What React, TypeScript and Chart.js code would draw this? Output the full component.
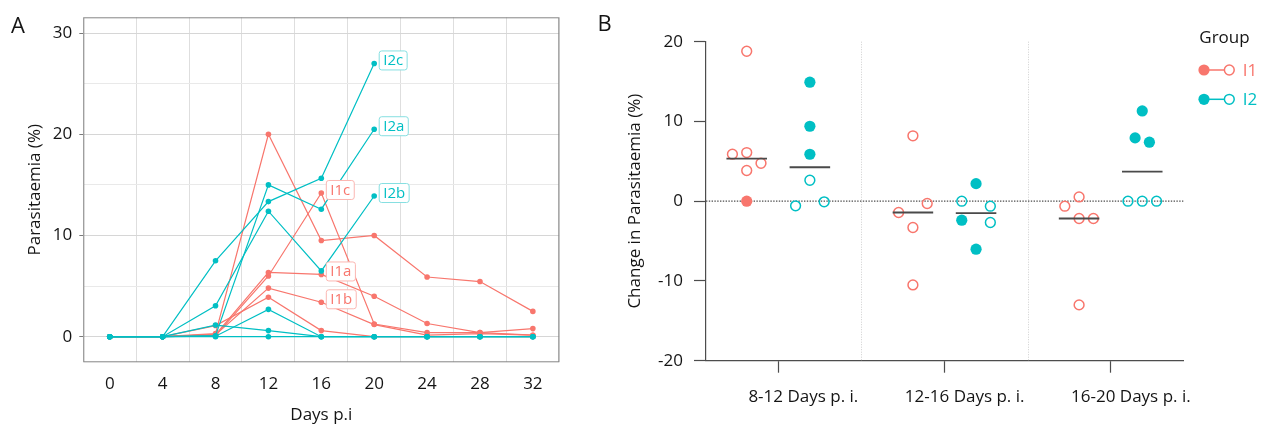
import React, { useEffect, useRef } from 'react';
import { Chart, registerables } from 'chart.js';

Chart.register(...registerables);

const FONT_FAMILY = "'Open Sans', 'DejaVu Sans', sans-serif";
const RED = '#F8766D';
const TEAL = '#00BFC4';
const RED_LIGHT = '#fbb7b2';
const TEAL_LIGHT = '#86dfe1';
const INK = '#141414';
const AXIS = '#4d4d4d';

// ---------------- Panel A data ----------------
const DAYS = [0, 4, 8, 12, 16, 20, 24, 28, 32];
const A_Y_TICKS = [0, 5, 10, 15, 20, 25, 30];

const I1A = [0, 0, 0.2, 6.35, 6.15, 4.0, 1.3, 0.4, 0.8];
const I1B = [0, 0, 0.2, 4.8, 3.4, 1.2, 0.15, 0.3, 0.15];
const I1C = [0, 0, 0.1, 6.0, 14.2, 1.25, 0.4, 0.4, 0.15];
const I1D = [0, 0, 0.3, 20.0, 9.5, 10.0, 5.9, 5.45, 2.5];
const I1E = [0, 0, 1.1, 3.9, 0.6, 0, 0, 0, 0];

const I2A = [0, 0, 0.1, 15.0, 12.6, 20.5, null, null, null];
const I2B = [0, 0, 3.06, 12.4, 6.5, 13.9, null, null, null];
const I2C = [0, 0, 7.5, 13.35, 15.65, 27.0, null, null, null];
const I2D = [0, 0, 1.15, 0.6, 0, 0, 0, 0, 0];
const I2E = [0, 0, 0.05, 2.7, 0, 0, 0, 0, 0];
const I2F = [0, 0, 0, 0, 0, 0, 0, 0, 0];

const I1_MICE = [I1A, I1B, I1C, I1D, I1E];
const I2_MICE = [I2A, I2B, I2C, I2D, I2E, I2F];

const TAG_NAMES = ['I1a', 'I1b', 'I1c', 'I2a', 'I2b', 'I2c'];
const TAG_SERIES = [I1A, I1B, I1C, I2A, I2B, I2C];
const TAG_DAYS = [16, 16, 16, 20, 20, 20];
const TAG_GROUP = ['I1', 'I1', 'I1', 'I2', 'I2', 'I2'];

// ---------------- Panel B data ----------------
const PERIODS = ['8-12 Days p. i.', '12-16 Days p. i.', '16-20 Days p. i.'];
const B_Y_TICKS = [-20, -10, 0, 10, 20];

const I1_PERIOD = [0, 0, 0, 0, 0, 0, 1, 1, 1, 1, 1, 2, 2, 2, 2, 2];
const I1_CHANGE = [18.8, 5.9, 6.1, 4.76, 3.85, 0.0, 8.2, -1.42, -0.29, -3.3, -10.5, 0.54, -0.63, -2.17, -2.17, -13.0];
const I1_FILLED = [false, false, false, false, false, true, false, false, false, false, false, false, false, false, false, false];
const I1_SWARM = [0, -1, 0, 1, 0, 0, 0, -1, 1, 0, 0, 0, -1, 0, 1, 0];

const I2_PERIOD = [0, 0, 0, 0, 0, 0, 1, 1, 1, 1, 1, 1, 2, 2, 2, 2, 2, 2];
const I2_CHANGE = [14.92, 9.4, 5.89, 2.63, -0.58, -0.08, 0, 2.2, -0.63, -2.38, -2.67, -6.02, 11.32, 7.94, 7.4, 0, 0, 0];
const I2_FILLED = [true, true, true, false, false, false, false, true, false, true, false, true, true, true, true, false, false, false];
const I2_SWARM = [0, 0, 0, 0, -1, 1, -1, 0, 1, -1, 1, 0, 0, -0.5, 0.5, -1, 0, 1];

const GROUP_SHIFT = 0.19;
const SWARM_STEP = 0.086;
const MEDIAN_HALF = 0.122;

const font = (size: number) => ({ family: FONT_FAMILY, size, lineHeight: 1.2 });

function median(vals: number[]) {
  const s = [...vals].sort((a, b) => a - b);
  const n = s.length;
  return n % 2 ? s[(n - 1) / 2] : (s[n / 2 - 1] + s[n / 2]) / 2;
}

// ---------------- Panel A config ----------------
function buildA(): any {
  const mk = (vals: (number | null)[], color: string, order: number) => ({
    data: DAYS.map((d, i) => ({ x: d, y: vals[i] })).filter((p) => p.y !== null),
    borderColor: color,
    backgroundColor: color,
    borderWidth: 1.2,
    pointRadius: 2.8,
    pointBorderWidth: 0,
    tension: 0,
    order,
  });
  const datasets = [
    ...I2_MICE.map((v) => mk(v, TEAL, 0)),
    ...I1_MICE.map((v) => mk(v, RED, 1)),
  ];

  const framePlugin = {
    id: 'frameA',
    beforeDatasetsDraw(chart: any) {
      const { ctx, chartArea: a } = chart;
      ctx.save();
      ctx.strokeStyle = '#858585';
      ctx.lineWidth = 1;
      ctx.strokeRect(a.left + 0.5, a.top + 0.5, a.right - a.left - 1, a.bottom - a.top - 1);
      ctx.restore();
    },
  };

  const tagPlugin = {
    id: 'tagsA',
    afterDatasetsDraw(chart: any) {
      const { ctx } = chart;
      const xs = chart.scales.x;
      const ys = chart.scales.y;
      ctx.save();
      ctx.font = `15px ${FONT_FAMILY}`;
      ctx.textBaseline = 'middle';
      ctx.textAlign = 'left';
      TAG_NAMES.forEach((name, i) => {
        const di = DAYS.indexOf(TAG_DAYS[i]);
        const v = TAG_SERIES[i][di] as number;
        const px = xs.getPixelForValue(TAG_DAYS[i]);
        const py = ys.getPixelForValue(v);
        const tw = ctx.measureText(name).width;
        const w = tw + 8;
        const h = 19;
        const bx = px + 5;
        const by = py - 3 - h / 2;
        const isI1 = TAG_GROUP[i] === 'I1';
        ctx.beginPath();
        ctx.roundRect(bx, by, w, h, 2.5);
        ctx.fillStyle = '#ffffff';
        ctx.fill();
        ctx.lineWidth = 1;
        ctx.strokeStyle = isI1 ? RED_LIGHT : TEAL_LIGHT;
        ctx.stroke();
        ctx.fillStyle = isI1 ? RED : TEAL;
        ctx.fillText(name, bx + 4, by + h / 2 + 0.5);
      });
      ctx.restore();
    },
  };

  return {
    type: 'line',
    data: { datasets },
    plugins: [framePlugin, tagPlugin],
    options: {
      animation: false,
      responsive: false,
      maintainAspectRatio: false,
      events: [],
      layout: { padding: { left: 0, top: 17.3, right: 20.7, bottom: 0 } },
      plugins: { legend: { display: false }, tooltip: { enabled: false } },
      scales: {
        x: {
          type: 'linear',
          bounds: 'data',
          min: -2,
          max: 34,
          afterBuildTicks: (ax: any) => {
            ax.ticks = DAYS.map((v) => ({ value: v }));
          },
          afterFit: (s: any) => {
            s.height = 62.7;
          },
          grid: { offset: true, color: '#dedede', lineWidth: 1, drawTicks: false },
          border: { display: false },
          ticks: { font: font(17), color: INK, padding: 12, maxRotation: 0, minRotation: 0, autoSkip: false },
          title: { display: true, text: 'Days p.i', font: font(17), color: INK, padding: { top: 0, bottom: 0 } },
        },
        y: {
          type: 'linear',
          bounds: 'data',
          min: -2.53,
          max: 31.56,
          afterBuildTicks: (ax: any) => {
            ax.ticks = A_Y_TICKS.map((v) => ({ value: v }));
          },
          afterFit: (s: any) => {
            s.width = 83.3;
          },
          grid: {
            color: (c: any) => (c.tick && c.tick.value % 10 === 0 ? '#d6d6d6' : '#e9e9e9'),
            tickColor: (c: any) => (c.tick && c.tick.value % 10 === 0 ? '#7a7a7a' : 'rgba(0,0,0,0)'),
            lineWidth: 1,
            tickLength: 4,
          },
          border: { display: false },
          ticks: {
            font: font(17),
            color: INK,
            padding: 7,
            autoSkip: false,
            callback: (v: number) => (v % 10 === 0 ? String(v) : ''),
          },
          title: { display: true, text: 'Parasitaemia (%)', font: font(17), color: INK, padding: { top: 25, bottom: 0 } },
        },
      },
    },
  };
}

// ---------------- Panel B config ----------------
function buildB(): any {
  const groups = [
    { name: 'I1', color: RED, period: I1_PERIOD, change: I1_CHANGE, filled: I1_FILLED, swarm: I1_SWARM, shift: -GROUP_SHIFT },
    { name: 'I2', color: TEAL, period: I2_PERIOD, change: I2_CHANGE, filled: I2_FILLED, swarm: I2_SWARM, shift: GROUP_SHIFT },
  ];

  const datasets: any[] = [];
  groups.forEach((g) => {
    const pts = (wantFilled: boolean) =>
      g.change
        .map((v, i) => ({ x: g.period[i] + 1 + g.shift + g.swarm[i] * SWARM_STEP, y: v, f: g.filled[i] }))
        .filter((p) => p.f === wantFilled)
        .map((p) => ({ x: p.x, y: p.y }));
    datasets.push({
      type: 'scatter',
      data: pts(false),
      pointStyle: 'circle',
      pointRadius: 4.9,
      pointBorderWidth: 1.5,
      borderColor: g.color,
      backgroundColor: 'rgba(255,255,255,0)',
      order: 1,
    });
    datasets.push({
      type: 'scatter',
      data: pts(true),
      pointStyle: 'circle',
      pointRadius: 5.6,
      pointBorderWidth: 0,
      borderColor: g.color,
      backgroundColor: g.color,
      order: 1,
    });
  });

  const medData: any[] = [];
  groups.forEach((g) => {
    PERIODS.forEach((_, p) => {
      const vals = g.change.filter((_, i) => g.period[i] === p);
      const m = median(vals);
      const c = p + 1 + g.shift;
      medData.push({ x: c - MEDIAN_HALF, y: m }, { x: c + MEDIAN_HALF, y: m }, { x: c + MEDIAN_HALF + 0.01, y: null });
    });
  });
  datasets.push({
    type: 'line',
    data: medData,
    borderColor: '#4a4a4a',
    borderWidth: 1.8,
    pointRadius: 0,
    spanGaps: false,
    tension: 0,
    order: 0,
  });

  const guidePlugin = {
    id: 'guidesB',
    beforeDatasetsDraw(chart: any) {
      const { ctx, chartArea: a } = chart;
      const xs = chart.scales.x;
      const ys = chart.scales.y;
      ctx.save();
      ctx.lineWidth = 1;
      ctx.strokeStyle = '#cfcfcf';
      ctx.setLineDash([1, 1.5]);
      for (let i = 0; i < PERIODS.length - 1; i++) {
        const px = Math.round(xs.getPixelForValue(i + 1.5)) + 0.5;
        ctx.beginPath();
        ctx.moveTo(px, a.top);
        ctx.lineTo(px, a.bottom);
        ctx.stroke();
      }
      const y0 = ys.getPixelForValue(0);
      ctx.strokeStyle = '#4d4d4d';
      ctx.lineWidth = 1.2;
      ctx.setLineDash([1.4, 1.4]);
      ctx.beginPath();
      ctx.moveTo(a.left, y0);
      ctx.lineTo(a.right, y0);
      ctx.stroke();
      ctx.restore();
    },
  };

  const legendPlugin = {
    id: 'legendB',
    afterDraw(chart: any) {
      const { ctx } = chart;
      ctx.save();
      ctx.textBaseline = 'middle';
      ctx.textAlign = 'left';
      ctx.font = `17px ${FONT_FAMILY}`;
      ctx.fillStyle = INK;
      ctx.fillText('Group', 619.3, 38.3);
      groups.forEach((g, i) => {
        const yy = 70 + i * 29.3;
        ctx.strokeStyle = g.color;
        ctx.lineWidth = 1.5;
        ctx.beginPath();
        ctx.moveTo(624, yy);
        ctx.lineTo(649.3, yy);
        ctx.stroke();
        ctx.beginPath();
        ctx.arc(624, yy, 5.6, 0, Math.PI * 2);
        ctx.fillStyle = g.color;
        ctx.fill();
        ctx.beginPath();
        ctx.arc(649.3, yy, 4.9, 0, Math.PI * 2);
        ctx.fillStyle = '#ffffff';
        ctx.fill();
        ctx.stroke();
        ctx.fillStyle = g.color;
        ctx.fillText(g.name, 662.7, yy + 1);
      });
      ctx.restore();
    },
  };

  return {
    type: 'scatter',
    data: { datasets },
    plugins: [guidePlugin, legendPlugin],
    options: {
      animation: false,
      responsive: false,
      maintainAspectRatio: false,
      events: [],
      layout: { padding: { left: 0, top: 41.7, right: 79.7, bottom: 0 } },
      plugins: { legend: { display: false }, tooltip: { enabled: false } },
      scales: {
        x: {
          type: 'linear',
          bounds: 'data',
          min: 0.565,
          max: 3.437,
          afterBuildTicks: (ax: any) => {
            ax.ticks = PERIODS.map((_, i) => ({ value: i + 1 }));
          },
          afterFit: (s: any) => {
            s.height = 64.3;
          },
          grid: { drawOnChartArea: false, drawTicks: true, tickLength: 12, tickColor: AXIS, tickWidth: 1.2 },
          border: { display: true, color: AXIS, width: 1.2 },
          ticks: {
            font: font(17),
            color: INK,
            padding: 14,
            align: 'end',
            labelOffset: 80,
            maxRotation: 0,
            minRotation: 0,
            autoSkip: false,
            callback: (v: number) => PERIODS[Math.round(v) - 1],
          },
        },
        y: {
          type: 'linear',
          bounds: 'data',
          min: -20,
          max: 20,
          afterBuildTicks: (ax: any) => {
            ax.ticks = B_Y_TICKS.map((v) => ({ value: v }));
          },
          afterFit: (s: any) => {
            s.width = 126;
          },
          grid: { drawOnChartArea: false, drawTicks: true, tickLength: 12, tickColor: AXIS, tickWidth: 1.2 },
          border: { display: true, color: AXIS, width: 1.2 },
          ticks: { font: font(17), color: INK, padding: 11, autoSkip: false },
          title: {
            display: true,
            text: 'Change in Parasitaemia (%)',
            font: font(17),
            color: INK,
            padding: { top: 45, bottom: 0 },
          },
        },
      },
    },
  };
}

export default function App() {
  const refA = useRef<HTMLCanvasElement>(null);
  const refB = useRef<HTMLCanvasElement>(null);

  useEffect(() => {
    const a = new Chart(refA.current as HTMLCanvasElement, buildA());
    const b = new Chart(refB.current as HTMLCanvasElement, buildB());
    return () => {
      a.destroy();
      b.destroy();
    };
  }, []);

  const letter: React.CSSProperties = {
    position: 'absolute',
    fontFamily: FONT_FAMILY,
    fontSize: 22,
    lineHeight: '22px',
    color: INK,
    margin: 0,
  };

  return (
    <div
      style={{
        position: 'absolute',
        left: 0,
        top: 0,
        width: 1263,
        height: 425,
        background: '#ffffff',
        overflow: 'hidden',
      }}
    >
      <canvas
        ref={refA}
        width={580}
        height={425}
        style={{ position: 'absolute', left: 0, top: 0, width: 580, height: 425 }}
      />
      <canvas
        ref={refB}
        width={683}
        height={425}
        style={{ position: 'absolute', left: 580, top: 0, width: 683, height: 425 }}
      />
      <div style={{ ...letter, left: 11, top: 13 }}>A</div>
      <div style={{ ...letter, left: 597.5, top: 11 }}>B</div>
    </div>
  );
}
